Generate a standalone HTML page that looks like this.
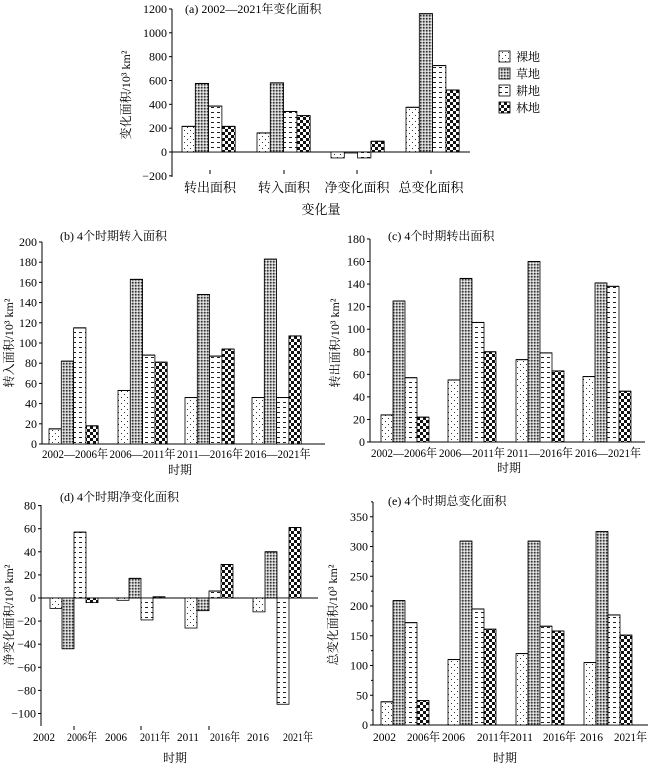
<!DOCTYPE html>
<html><head><meta charset="utf-8"><style>
html,body{margin:0;padding:0;background:#fff}
svg{display:block;font-family:"Liberation Serif","Noto Serif CJK SC",serif}
</style></head><body>
<svg id="s" width="650" height="764" viewBox="0 0 650 764" xmlns="http://www.w3.org/2000/svg">
<defs>
<pattern id="p0" width="6" height="6" patternUnits="userSpaceOnUse"><rect width="6" height="6" fill="#fff"/><rect x="1" y="1" width="1" height="1" fill="#333"/><rect x="4" y="4" width="1" height="1" fill="#333"/></pattern>
<pattern id="p1" width="3" height="3" patternUnits="userSpaceOnUse"><rect width="3" height="3" fill="#bbb"/><rect width="1.5" height="1.5" fill="#333"/><rect x="1.5" y="1.5" width="1.5" height="1.5" fill="#eee"/></pattern>
<pattern id="p2" width="6" height="5" patternUnits="userSpaceOnUse"><rect width="6" height="5" fill="#fff"/><rect x="1" y="2" width="3" height="1" fill="#222"/></pattern>
<pattern id="p3" width="6" height="6" patternUnits="userSpaceOnUse"><rect width="6" height="6" fill="#fff"/><rect width="3" height="3" fill="#111"/><rect x="3" y="3" width="3" height="3" fill="#111"/></pattern>
</defs>
<g id="g" font-size="12" fill="#000"></g>
</svg>
<script>
var g=document.getElementById('g'),o='';
function T(x,y,s,a,fs,rot,tl){o+='<text x="'+x+'" y="'+y+'" text-anchor="'+(a||'start')+'" font-size="'+(fs||12)+'"'+(tl?' textLength="'+tl+'" lengthAdjust="spacingAndGlyphs"':'')+(rot?' transform="rotate(-90 '+x+' '+y+')"':'')+'>'+s+'</text>';}
function L(x1,y1,x2,y2){o+='<line x1="'+x1+'" y1="'+y1+'" x2="'+x2+'" y2="'+y2+'" stroke="#000" stroke-width="1"/>';}
function chart(c){
 var py=function(v){return c.y0-(v)*c.k;};
 L(c.ax,c.top,c.ax,c.bot);
 L(c.ax,py(0),c.xe,py(0));
 c.ticks.forEach(function(t){var y=py(t);L(c.ax-3,y,c.ax,y);T(c.ax-5,y+4,t<0?'−'+(-t):t,'end');});
 if(c.minor){c.minor.forEach(function(t){var y=py(t);L(c.ax-2,y,c.ax,y);});}
 c.data.forEach(function(gr,i){gr.forEach(function(v,j){
  var x=c.gs[i]+j*c.bw,y=Math.min(py(0),py(v)),h=Math.abs(v*c.k);
  if(h<1)h=1;
  o+='<rect x="'+x+'" y="'+y+'" width="'+c.bw+'" height="'+h+'" fill="url(#p'+j+')" stroke="#000" stroke-width="0.8"/>';
  if(v>0)L(x,y,x+c.bw,y);
 });});
 T(c.tx,c.ty,c.title,'start',12);
 T(c.ylx,c.yly,c.yl,'middle',12,1);
}
// (a)
chart({ax:172,top:9,bot:177,y0:152,k:0.1192,xe:470,ticks:[-200,0,200,400,600,800,1000,1200],
 gs:[182,257,331,406],bw:13.3,data:[[215,575,385,215],[160,580,340,305],[-50,0,-50,90],[375,1160,725,520]],
 title:'(a) 2002—2021年变化面积',tx:185,ty:13,yl:'变化面积/10³ km²',ylx:130,yly:95});
[[210,'转出面积'],[284,'转入面积'],[357,'净变化面积'],[431,'总变化面积']].forEach(function(a){L(a[0],170,a[0],174);T(a[0],192,a[1],'middle',13);});
T(321,214,'变化量','middle',13);
[['p0','裸地'],['p1','草地'],['p2','耕地'],['p3','林地']].forEach(function(a,i){var y=51+i*17;o+='<rect x="499" y="'+y+'" width="11" height="11" fill="url(#'+a[0]+')" stroke="#000" stroke-width="0.8"/>';T(516,y+10,a[1],'start',12);});
var per=['2002—2006年','2006—2011年','2011—2016年','2016—2021年'];
// (b)
chart({ax:42,top:242,bot:444,y0:444,k:1.01,xe:325,ticks:[0,20,40,60,80,100,120,140,160,180,200],
 gs:[49,118,185,252],bw:12.3,data:[[15,82,115,18],[53,163,88,81],[46,148,87,94],[46,183,46,107]],
 title:'(b) 4个时期转入面积',tx:60,ty:240,yl:'转入面积/10³ km²',ylx:13,yly:343});
per.forEach(function(p,i){T(42+i*67.5,458,p,'start',12,0,66);});T(180,474,'时期','middle',12);
// (c)
chart({ax:370,top:239,bot:442,y0:442,k:1.128,xe:645,ticks:[0,20,40,60,80,100,120,140,160,180],
 gs:[381,448,516,583],bw:12,data:[[24,125,57,22],[55,145,106,80],[73,160,79,63],[58,141,138,45]],
 title:'(c) 4个时期转出面积',tx:388,ty:240,yl:'转出面积/10³ km²',ylx:339,yly:343});
per.forEach(function(p,i){T(371+i*68,457,p,'start',12,0,66);});T(509,472,'时期','middle',12);
// (d)
chart({ax:41,top:505,bot:726,y0:598,k:1.155,xe:318,ticks:[-100,-80,-60,-40,-20,0,20,40,60,80],
 gs:[50,117,185,253],bw:12,data:[[-9,-44,57,-4],[-2,17,-19,1],[-26,-11,6,29],[-12,40,-92,61]],
 title:'(d) 4个时期净变化面积',tx:60,ty:501,yl:'净变化面积/10³ km²',ylx:13,yly:615});
[74,141,209].forEach(function(x){L(x,726,x,730);});
[[33,'2002',22],[67,'2006年',30],[105,'2006',22],[140,'2011年',30],[177,'2011',22],[210,'2016年',30],[247,'2016',22],[283,'2021年',30]].forEach(function(a){T(a[0],741,a[1],'start',12,0,a[2]);});
T(175,762,'时期','middle',12);
// (e)
chart({ax:373,top:502,bot:725,y0:725,k:0.595,xe:648,ticks:[0,50,100,150,200,250,300,350],minor:[25,75,125,175,225,275,325,375],
 gs:[381,448,516,584],bw:12,data:[[39,209,172,41],[110,309,195,161],[120,309,166,158],[105,325,185,151]],
 title:'(e) 4个时期总变化面积',tx:388,ty:505,yl:'总变化面积/10³ km²',ylx:337,yly:615});
[[373,'2002',23],[407,'2006年',33],[442,'2006',23],[477,'2011年',33],[510,'2011',23],[543,'2016年',33],[580,'2016',23],[614,'2021年',33]].forEach(function(a){T(a[0],741,a[1],'start',12,0,a[2]);});
T(505,762,'时期','middle',12);
g.innerHTML=o;
</script>
</body></html>
